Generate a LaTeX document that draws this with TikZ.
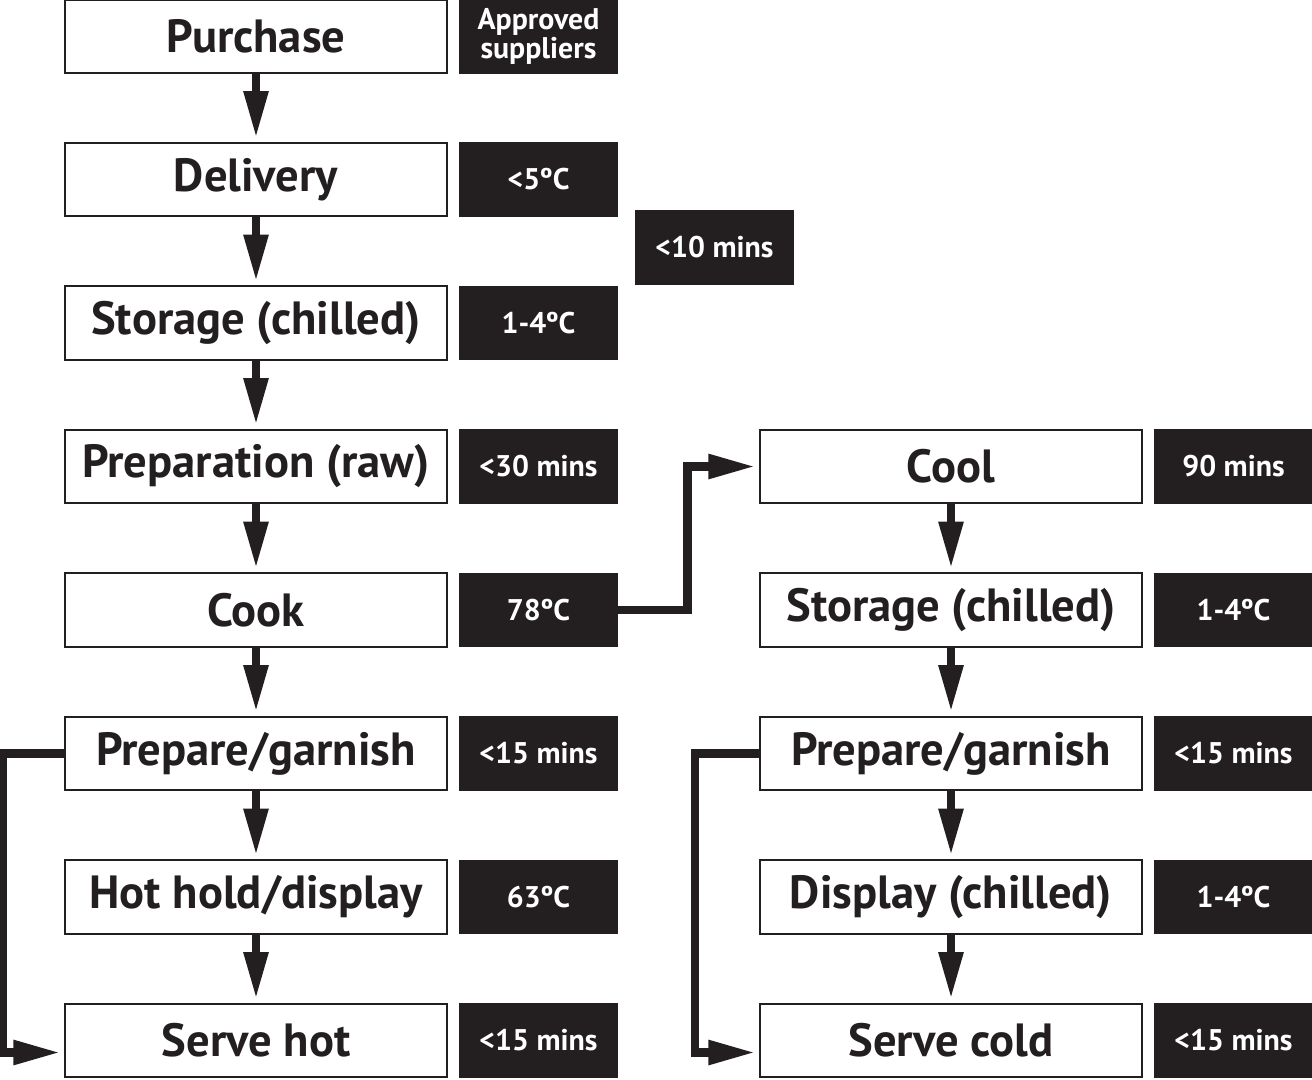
\documentclass[tikz,border=0pt]{standalone}
\usepackage{fontspec}
\setmainfont{PT Sans}
\usetikzlibrary{arrows.meta}
\definecolor{ink}{HTML}{231F20}

\begin{document}
\begin{tikzpicture}[x=0.02cm,y=-0.02cm,
  stage/.style={draw=ink,line width=1.2pt,fill=white,minimum width=7.64cm,minimum height=1.47cm,inner sep=0pt,font=\bfseries\fontsize{26.5}{28}\selectfont,text=ink},
  note/.style={fill=ink,text=white,minimum width=3.18cm,minimum height=1.49cm,inner sep=0pt,align=center,font=\bfseries\fontsize{17}{16.5}\selectfont},
  flow/.style={draw=ink,line width=4.8pt,-{Triangle[length=0.94cm,width=0.46cm]},shorten >=2pt}]
\useasboundingbox (0,0) rectangle (1312,1079);
% hot line
\foreach \n/\t/\y in {p1/Purchase/36.5, p2/Delivery/179.5, p3/{Storage (chilled)}/323, p4/{Preparation (raw)}/466.5, p5/Cook/610, p6/{Prepare/garnish}/753.5, p7/{Hot hold/display}/897, p8/{Serve hot}/1040.5}
  \node[stage] (\n) at (256,\y) {\t};
\foreach \n/\t/\y in {n1/{Approved\\suppliers}/36.5, n2/<5ºC/179.5, n3/1-4ºC/323, n4/<30 mins/466.5, n5/78ºC/610, n6/<15 mins/753.5, n7/63ºC/897, n8/<15 mins/1040.5}
  \node[note] (\n) at (538.5,\y) {\t};
\node[note] (n0) at (714.5,247.5) {<10 mins};
% cold line
\foreach \n/\t/\y in {c1/Cool/466.5, c2/{Storage (chilled)}/610, c3/{Prepare/garnish}/753.5, c4/{Display (chilled)}/897, c5/{Serve cold}/1040.5}
  \node[stage] (\n) at (951,\y) {\t};
\foreach \n/\t/\y in {m1/90 mins/466.5, m2/1-4ºC/610, m3/<15 mins/753.5, m4/1-4ºC/897, m5/<15 mins/1040.5}
  \node[note] (\n) at (1233.5,\y) {\t};
\foreach \a/\b in {p1/p2,p2/p3,p3/p4,p4/p5,p5/p6,p6/p7,p7/p8,c1/c2,c2/c3,c3/c4,c4/c5}
  \draw[flow] (\a) -- (\b);
\draw[flow] (n5.east) -- ++(69,0) |- (c1.west);
\draw[flow] (p6.west) -- ++(-61,0) |- ([yshift=-0.24cm]p8.west);
\draw[flow] (c3.west) -- ++(-64,0) |- ([yshift=-0.24cm]c5.west);
\end{tikzpicture}
\end{document}
